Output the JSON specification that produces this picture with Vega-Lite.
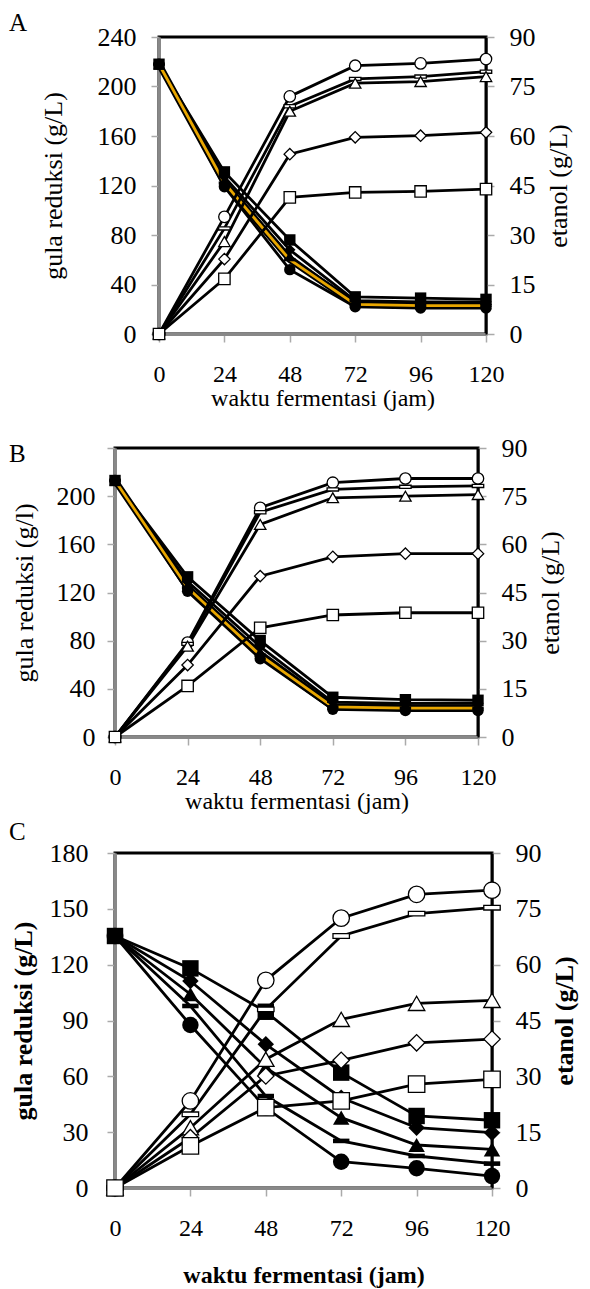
{
  "$schema": "https://vega.github.io/schema/vega-lite/v6.json",
  "padding": {"left": 7, "top": 9, "right": 5, "bottom": 0},
  "spacing": 3,
  "datasets": {
    "A": [
      {"k":"gula","s":"square","t":0,"v":218},{"k":"gula","s":"square","t":24,"v":131},{"k":"gula","s":"square","t":48,"v":76},{"k":"gula","s":"square","t":72,"v":30},{"k":"gula","s":"square","t":96,"v":29},{"k":"gula","s":"square","t":120,"v":28},
      {"k":"gula","s":"diamond","t":0,"v":218},{"k":"gula","s":"diamond","t":24,"v":127},{"k":"gula","s":"diamond","t":48,"v":68},{"k":"gula","s":"diamond","t":72,"v":27},{"k":"gula","s":"diamond","t":96,"v":26},{"k":"gula","s":"diamond","t":120,"v":26},
      {"k":"gula","s":"triangle","t":0,"v":218},{"k":"gula","s":"triangle","t":24,"v":124},{"k":"gula","s":"triangle","t":48,"v":63},{"k":"gula","s":"triangle","t":72,"v":25},{"k":"gula","s":"triangle","t":96,"v":24},{"k":"gula","s":"triangle","t":120,"v":24},
      {"k":"gula","s":"dash","t":0,"v":218},{"k":"gula","s":"dash","t":24,"v":122},{"k":"gula","s":"dash","t":48,"v":60},{"k":"gula","s":"dash","t":72,"v":24},{"k":"gula","s":"dash","t":96,"v":23},{"k":"gula","s":"dash","t":120,"v":23},
      {"k":"gula","s":"circle","t":0,"v":218},{"k":"gula","s":"circle","t":24,"v":119},{"k":"gula","s":"circle","t":48,"v":52},{"k":"gula","s":"circle","t":72,"v":22},{"k":"gula","s":"circle","t":96,"v":21},{"k":"gula","s":"circle","t":120,"v":21},
      {"k":"etanol","s":"circle","t":0,"v":0},{"k":"etanol","s":"circle","t":24,"v":35.5},{"k":"etanol","s":"circle","t":48,"v":72},{"k":"etanol","s":"circle","t":72,"v":81.3},{"k":"etanol","s":"circle","t":96,"v":82},{"k":"etanol","s":"circle","t":120,"v":83.3},
      {"k":"etanol","s":"dash","t":0,"v":0},{"k":"etanol","s":"dash","t":24,"v":32},{"k":"etanol","s":"dash","t":48,"v":69},{"k":"etanol","s":"dash","t":72,"v":77.3},{"k":"etanol","s":"dash","t":96,"v":78},{"k":"etanol","s":"dash","t":120,"v":79.5},
      {"k":"etanol","s":"triangle","t":0,"v":0},{"k":"etanol","s":"triangle","t":24,"v":28},{"k":"etanol","s":"triangle","t":48,"v":67.5},{"k":"etanol","s":"triangle","t":72,"v":76},{"k":"etanol","s":"triangle","t":96,"v":76.5},{"k":"etanol","s":"triangle","t":120,"v":78},
      {"k":"etanol","s":"diamond","t":0,"v":0},{"k":"etanol","s":"diamond","t":24,"v":22.7},{"k":"etanol","s":"diamond","t":48,"v":54.5},{"k":"etanol","s":"diamond","t":72,"v":59.6},{"k":"etanol","s":"diamond","t":96,"v":60.1},{"k":"etanol","s":"diamond","t":120,"v":61.1},
      {"k":"etanol","s":"square","t":0,"v":0},{"k":"etanol","s":"square","t":24,"v":16.7},{"k":"etanol","s":"square","t":48,"v":41.4},{"k":"etanol","s":"square","t":72,"v":42.9},{"k":"etanol","s":"square","t":96,"v":43.2},{"k":"etanol","s":"square","t":120,"v":43.9}
    ],
    "B": [
      {"k":"gula","s":"square","t":0,"v":213},{"k":"gula","s":"square","t":24,"v":133},{"k":"gula","s":"square","t":48,"v":80},{"k":"gula","s":"square","t":72,"v":33},{"k":"gula","s":"square","t":96,"v":31},{"k":"gula","s":"square","t":120,"v":30.5},
      {"k":"gula","s":"diamond","t":0,"v":213},{"k":"gula","s":"diamond","t":24,"v":129},{"k":"gula","s":"diamond","t":48,"v":75},{"k":"gula","s":"diamond","t":72,"v":29},{"k":"gula","s":"diamond","t":96,"v":28},{"k":"gula","s":"diamond","t":120,"v":28},
      {"k":"gula","s":"triangle","t":0,"v":213},{"k":"gula","s":"triangle","t":24,"v":126},{"k":"gula","s":"triangle","t":48,"v":71},{"k":"gula","s":"triangle","t":72,"v":27},{"k":"gula","s":"triangle","t":96,"v":26},{"k":"gula","s":"triangle","t":120,"v":26},
      {"k":"gula","s":"dash","t":0,"v":213},{"k":"gula","s":"dash","t":24,"v":124},{"k":"gula","s":"dash","t":48,"v":68},{"k":"gula","s":"dash","t":72,"v":25},{"k":"gula","s":"dash","t":96,"v":24},{"k":"gula","s":"dash","t":120,"v":24},
      {"k":"gula","s":"circle","t":0,"v":213},{"k":"gula","s":"circle","t":24,"v":121},{"k":"gula","s":"circle","t":48,"v":65},{"k":"gula","s":"circle","t":72,"v":23},{"k":"gula","s":"circle","t":96,"v":22},{"k":"gula","s":"circle","t":120,"v":22},
      {"k":"etanol","s":"circle","t":0,"v":0},{"k":"etanol","s":"circle","t":24,"v":29.4},{"k":"etanol","s":"circle","t":48,"v":71.4},{"k":"etanol","s":"circle","t":72,"v":79.2},{"k":"etanol","s":"circle","t":96,"v":80.5},{"k":"etanol","s":"circle","t":120,"v":80.5},
      {"k":"etanol","s":"dash","t":0,"v":0},{"k":"etanol","s":"dash","t":24,"v":29},{"k":"etanol","s":"dash","t":48,"v":70},{"k":"etanol","s":"dash","t":72,"v":77.1},{"k":"etanol","s":"dash","t":96,"v":77.9},{"k":"etanol","s":"dash","t":120,"v":78.2},
      {"k":"etanol","s":"triangle","t":0,"v":0},{"k":"etanol","s":"triangle","t":24,"v":28.3},{"k":"etanol","s":"triangle","t":48,"v":66.2},{"k":"etanol","s":"triangle","t":72,"v":74.5},{"k":"etanol","s":"triangle","t":96,"v":75},{"k":"etanol","s":"triangle","t":120,"v":75.5},
      {"k":"etanol","s":"diamond","t":0,"v":0},{"k":"etanol","s":"diamond","t":24,"v":22.4},{"k":"etanol","s":"diamond","t":48,"v":50.1},{"k":"etanol","s":"diamond","t":72,"v":56.1},{"k":"etanol","s":"diamond","t":96,"v":57.1},{"k":"etanol","s":"diamond","t":120,"v":57.1},
      {"k":"etanol","s":"square","t":0,"v":0},{"k":"etanol","s":"square","t":24,"v":15.9},{"k":"etanol","s":"square","t":48,"v":34},{"k":"etanol","s":"square","t":72,"v":38},{"k":"etanol","s":"square","t":96,"v":38.7},{"k":"etanol","s":"square","t":120,"v":38.7}
    ],
    "C": [
      {"k":"gula","s":"square","t":0,"v":135.4},{"k":"gula","s":"square","t":24,"v":118},{"k":"gula","s":"square","t":48,"v":94.7},{"k":"gula","s":"square","t":72,"v":62},{"k":"gula","s":"square","t":96,"v":38.7},{"k":"gula","s":"square","t":120,"v":36.4},
      {"k":"gula","s":"diamond","t":0,"v":135.4},{"k":"gula","s":"diamond","t":24,"v":111.2},{"k":"gula","s":"diamond","t":48,"v":77.2},{"k":"gula","s":"diamond","t":72,"v":48.5},{"k":"gula","s":"diamond","t":96,"v":32.4},{"k":"gula","s":"diamond","t":120,"v":29.7},
      {"k":"gula","s":"triangle","t":0,"v":135.4},{"k":"gula","s":"triangle","t":24,"v":104.1},{"k":"gula","s":"triangle","t":48,"v":64.7},{"k":"gula","s":"triangle","t":72,"v":37.8},{"k":"gula","s":"triangle","t":96,"v":23.1},{"k":"gula","s":"triangle","t":120,"v":20.8},
      {"k":"gula","s":"dash","t":0,"v":135.4},{"k":"gula","s":"dash","t":24,"v":97.8},{"k":"gula","s":"dash","t":48,"v":49.4},{"k":"gula","s":"dash","t":72,"v":25.3},{"k":"gula","s":"dash","t":96,"v":17.2},{"k":"gula","s":"dash","t":120,"v":13.1},
      {"k":"gula","s":"circle","t":0,"v":135.4},{"k":"gula","s":"circle","t":24,"v":87.6},{"k":"gula","s":"circle","t":48,"v":43.1},{"k":"gula","s":"circle","t":72,"v":14.1},{"k":"gula","s":"circle","t":96,"v":10.6},{"k":"gula","s":"circle","t":120,"v":6.4},
      {"k":"etanol","s":"circle","t":0,"v":0},{"k":"etanol","s":"circle","t":24,"v":23.4},{"k":"etanol","s":"circle","t":48,"v":55.8},{"k":"etanol","s":"circle","t":72,"v":72.5},{"k":"etanol","s":"circle","t":96,"v":78.9},{"k":"etanol","s":"circle","t":120,"v":80},
      {"k":"etanol","s":"dash","t":0,"v":0},{"k":"etanol","s":"dash","t":24,"v":19.8},{"k":"etanol","s":"dash","t":48,"v":48},{"k":"etanol","s":"dash","t":72,"v":67.7},{"k":"etanol","s":"dash","t":96,"v":73.7},{"k":"etanol","s":"dash","t":120,"v":75.3},
      {"k":"etanol","s":"triangle","t":0,"v":0},{"k":"etanol","s":"triangle","t":24,"v":16.2},{"k":"etanol","s":"triangle","t":48,"v":34.6},{"k":"etanol","s":"triangle","t":72,"v":45.3},{"k":"etanol","s":"triangle","t":96,"v":49.6},{"k":"etanol","s":"triangle","t":120,"v":50.4},
      {"k":"etanol","s":"diamond","t":0,"v":0},{"k":"etanol","s":"diamond","t":24,"v":13.5},{"k":"etanol","s":"diamond","t":48,"v":30.1},{"k":"etanol","s":"diamond","t":72,"v":34.3},{"k":"etanol","s":"diamond","t":96,"v":39},{"k":"etanol","s":"diamond","t":120,"v":40},
      {"k":"etanol","s":"square","t":0,"v":0},{"k":"etanol","s":"square","t":24,"v":11.3},{"k":"etanol","s":"square","t":48,"v":21.6},{"k":"etanol","s":"square","t":72,"v":23.4},{"k":"etanol","s":"square","t":96,"v":27.9},{"k":"etanol","s":"square","t":120,"v":29.2}
    ]
  },
  "vconcat": [
    {
      "hconcat": [
        {"width": 1, "height": 1, "data": {"values": []}, "mark": "point"},
        {
          "width": 327, "height": 297,
          "view": {"stroke": "black", "strokeWidth": 3},
          "title": {"text": "A", "dx": -150, "offset": -12},
          "data": {"name": "A"},
          "encoding": {"x": {"field": "t", "type": "quantitative", "scale": {"domain": [0, 120], "nice": false}, "axis": {"values": [0, 24, 48, 72, 96, 120], "title": "waktu fermentasi (jam)"}}},
          "layer": [
            {
              "transform": [{"filter": "datum.k === 'gula'"}],
              "encoding": {"y": {"field": "v", "type": "quantitative", "scale": {"domain": [0, 240], "nice": false}, "axis": {"orient": "left", "values": [0, 40, 80, 120, 160, 200, 240], "title": "gula reduksi (g/L)", "titlePadding": 31}}},
              "layer": [
                {"mark": {"type": "line", "color": "black", "strokeWidth": 2.8}, "encoding": {"detail": {"field": "s"}}},
                {"transform": [{"filter": "datum.s === 'dash'"}], "mark": {"type": "line", "color": "black", "strokeWidth": 6.5}},
                {"transform": [{"filter": "datum.s === 'dash'"}], "mark": {"type": "line", "color": "#E8A600", "strokeWidth": 2.8}},
                {"mark": {"type": "point", "filled": true, "color": "black", "opacity": 1, "size": 130}, "encoding": {"shape": {"field": "s", "type": "nominal", "scale": {"domain": ["circle", "dash", "triangle", "diamond", "square"], "range": ["circle", "M-1,-0.28H1V0.28H-1Z", "triangle-up", "diamond", "square"]}, "legend": null}}}
              ]
            },
            {
              "transform": [{"filter": "datum.k === 'etanol'"}],
              "encoding": {"y": {"field": "v", "type": "quantitative", "scale": {"domain": [0, 90], "nice": false}, "axis": {"orient": "right", "values": [0, 15, 30, 45, 60, 75, 90], "title": "etanol (g/L)", "titleAngle": 270, "titleBaseline": "top", "domainColor": "black", "domainWidth": 2, "titlePadding": 10}}},
              "layer": [
                {"mark": {"type": "line", "color": "black", "strokeWidth": 2.8}, "encoding": {"detail": {"field": "s"}}},
                {"mark": {"type": "point", "filled": true, "fill": "white", "stroke": "black", "strokeWidth": 1.3, "opacity": 1, "size": 130}, "encoding": {"shape": {"field": "s", "type": "nominal", "scale": {"domain": ["circle", "dash", "triangle", "diamond", "square"], "range": ["circle", "M-1,-0.28H1V0.28H-1Z", "triangle-up", "diamond", "square"]}, "legend": null}}}
              ]
            }
          ],
          "resolve": {"scale": {"y": "independent"}}
        }
      ],
      "spacing": 43,
      "bounds": "flush"
    },
    {
      "width": 363, "height": 289,
      "view": {"stroke": "black", "strokeWidth": 3},
      "title": {"text": ["", "B"], "lineHeight": 25, "dx": -106, "offset": -32},
      "data": {"name": "B"},
      "encoding": {"x": {"field": "t", "type": "quantitative", "scale": {"domain": [0, 120], "nice": false}, "axis": {"values": [0, 24, 48, 72, 96, 120], "title": "waktu fermentasi (jam)"}}},
      "layer": [
        {
          "transform": [{"filter": "datum.k === 'gula'"}],
          "encoding": {"y": {"field": "v", "type": "quantitative", "scale": {"domain": [0, 240], "nice": false}, "axis": {"orient": "left", "values": [0, 40, 80, 120, 160, 200, 240], "labelExpr": "datum.value == 240 ? '' : datum.label", "title": "gula reduksi (g/l)", "labelPadding": 12, "titlePadding": 19}}},
          "layer": [
            {"mark": {"type": "line", "color": "black", "strokeWidth": 2.8}, "encoding": {"detail": {"field": "s"}}},
            {"transform": [{"filter": "datum.s === 'dash'"}], "mark": {"type": "line", "color": "black", "strokeWidth": 6.5}},
            {"transform": [{"filter": "datum.s === 'dash'"}], "mark": {"type": "line", "color": "#E8A600", "strokeWidth": 2.8}},
            {"mark": {"type": "point", "filled": true, "color": "black", "opacity": 1, "size": 130}, "encoding": {"shape": {"field": "s", "type": "nominal", "scale": {"domain": ["circle", "dash", "triangle", "diamond", "square"], "range": ["circle", "M-1,-0.28H1V0.28H-1Z", "triangle-up", "diamond", "square"]}, "legend": null}}}
          ]
        },
        {
          "transform": [{"filter": "datum.k === 'etanol'"}],
          "encoding": {"y": {"field": "v", "type": "quantitative", "scale": {"domain": [0, 90], "nice": false}, "axis": {"orient": "right", "values": [0, 15, 30, 45, 60, 75, 90], "title": "etanol (g/L)", "titleAngle": 270, "titleBaseline": "top", "domainColor": "black", "domainWidth": 2, "titlePadding": 10}}},
          "layer": [
            {"mark": {"type": "line", "color": "black", "strokeWidth": 2.8}, "encoding": {"detail": {"field": "s"}}},
            {"mark": {"type": "point", "filled": true, "fill": "white", "stroke": "black", "strokeWidth": 1.3, "opacity": 1, "size": 130}, "encoding": {"shape": {"field": "s", "type": "nominal", "scale": {"domain": ["circle", "dash", "triangle", "diamond", "square"], "range": ["circle", "M-1,-0.28H1V0.28H-1Z", "triangle-up", "diamond", "square"]}, "legend": null}}}
          ]
        }
      ],
      "resolve": {"scale": {"y": "independent"}}
    },
    {
      "width": 377, "height": 335,
      "view": {"stroke": "black", "strokeWidth": 3},
      "title": {"text": "C", "dx": -106, "offset": -5},
      "data": {"name": "C"},
      "encoding": {"x": {"field": "t", "type": "quantitative", "scale": {"domain": [0, 120], "nice": false}, "axis": {"values": [0, 24, 48, 72, 96, 120], "title": "waktu fermentasi (jam)", "titleFontWeight": "bold", "titlePadding": 23}}},
      "layer": [
        {
          "transform": [{"filter": "datum.k === 'gula'"}],
          "encoding": {"y": {"field": "v", "type": "quantitative", "scale": {"domain": [0, 180], "nice": false}, "axis": {"orient": "left", "values": [0, 30, 60, 90, 120, 150, 180], "title": "gula reduksi  (g/L)", "titleFontWeight": "bold", "labelPadding": 19, "titlePadding": 13}}},
          "layer": [
            {"mark": {"type": "line", "color": "black", "strokeWidth": 2.8}, "encoding": {"detail": {"field": "s"}}},
            {"mark": {"type": "point", "filled": true, "color": "black", "opacity": 1, "size": 270}, "encoding": {"shape": {"field": "s", "type": "nominal", "scale": {"domain": ["circle", "dash", "triangle", "diamond", "square"], "range": ["circle", "M-1,-0.28H1V0.28H-1Z", "triangle-up", "diamond", "square"]}, "legend": null}}}
          ]
        },
        {
          "transform": [{"filter": "datum.k === 'etanol'"}],
          "encoding": {"y": {"field": "v", "type": "quantitative", "scale": {"domain": [0, 90], "nice": false}, "axis": {"orient": "right", "values": [0, 15, 30, 45, 60, 75, 90], "title": "etanol (g/L)", "titleAngle": 270, "titleBaseline": "top", "titleFontWeight": "bold", "domainColor": "black", "domainWidth": 2, "titlePadding": 10}}},
          "layer": [
            {"mark": {"type": "line", "color": "black", "strokeWidth": 2.8}, "encoding": {"detail": {"field": "s"}}},
            {"mark": {"type": "point", "filled": true, "fill": "white", "stroke": "black", "strokeWidth": 1.3, "opacity": 1, "size": 270}, "encoding": {"shape": {"field": "s", "type": "nominal", "scale": {"domain": ["circle", "dash", "triangle", "diamond", "square"], "range": ["circle", "M-1,-0.28H1V0.28H-1Z", "triangle-up", "diamond", "square"]}, "legend": null}}}
          ]
        }
      ],
      "resolve": {"scale": {"y": "independent"}}
    }
  ],
  "config": {
    "view": {"stroke": null},
    "font": "Liberation Serif",
    "title": {"font": "Liberation Serif", "fontSize": 25, "fontWeight": "normal", "anchor": "start", "frame": "group", "baseline": "alphabetic", "color": "black"},
    "axis": {"grid": false, "domainColor": "#888888", "domainWidth": 3, "tickColor": "#aaaaaa", "tickSize": 8, "tickWidth": 1.5, "labelFont": "Liberation Serif", "labelColor": "black", "labelFlush": false, "labelOverlap": false, "labelBound": false, "titleFont": "Liberation Serif", "titleColor": "black", "titleFontWeight": "normal"},
    "axisX": {"labelFontSize": 24, "labelPadding": 20, "titleFontSize": 24, "titlePadding": 0},
    "axisY": {"labelFontSize": 26, "labelPadding": 15, "titleFontSize": 26, "titlePadding": 20}
  }
}
